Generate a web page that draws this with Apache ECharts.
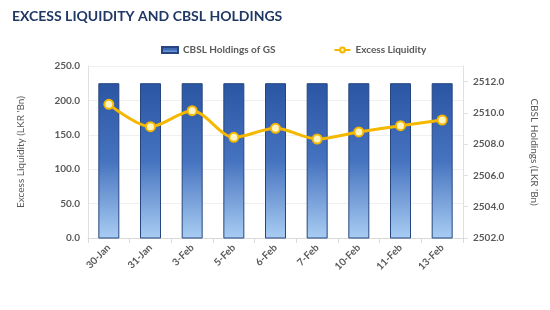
<!DOCTYPE html>
<html>
<head>
<meta charset="utf-8">
<script src="https://cdn.jsdelivr.net/npm/echarts@6/dist/echarts.min.js"></script>
<style>
  html, body { margin: 0; padding: 0; background: #fff; }
  #main { width: 550px; height: 310px; }
</style>
</head>
<body>
<div id="main"></div>
<script>
// data
var dates = ['30-Jan', '31-Jan', '3-Feb', '5-Feb', '6-Feb', '7-Feb', '10-Feb', '11-Feb', '13-Feb'];
var excessLiquidity = [194.3, 161.8, 185.0, 146.3, 159.4, 143.9, 154.1, 163.3, 171.5];
var cbslHoldings = [2511.9, 2511.9, 2511.9, 2511.9, 2511.9, 2511.9, 2511.9, 2511.9, 2511.9];

var chart = echarts.init(document.getElementById('main'));
var labelFont = 'Lato';
var grey = '#595959';

var option = {
  animation: false,
  textStyle: { fontFamily: labelFont },
  title: {
    text: 'EXCESS LIQUIDITY AND CBSL HOLDINGS',
    left: 7,
    top: 4,
    textStyle: { fontFamily: labelFont, fontSize: 14, fontWeight: 'bold', color: '#1f3864' }
  },
  legend: {
    left: 156,
    top: 40,
    itemGap: 58,
    itemWidth: 16,
    itemHeight: 6,
    textStyle: { fontFamily: labelFont, fontSize: 10, fontWeight: 'bold', color: grey },
    data: [
      { name: 'CBSL Holdings of GS', icon: 'rect' },
      { name: 'Excess Liquidity' }
    ]
  },
  grid: { left: 88, right: 87, top: 66, bottom: 72 },
  xAxis: {
    type: 'category',
    data: dates,
    axisLine: { lineStyle: { color: '#d9d9d9' } },
    axisTick: { show: true, lineStyle: { color: '#d9d9d9' } },
    axisLabel: { rotate: 45, fontSize: 10, fontWeight: 'bold', color: grey, margin: 8 }
  },
  yAxis: [
    {
      type: 'value',
      min: 0,
      max: 250,
      interval: 50,
      name: "Excess Liquidity (LKR 'Bn)",
      nameLocation: 'middle',
      nameGap: 62,
      nameTextStyle: { fontFamily: labelFont, fontSize: 10, color: grey },
      axisLine: { show: true, lineStyle: { color: '#e0e0e0' } },
      axisTick: { show: false },
      splitLine: { lineStyle: { color: '#f0f0f0' } },
      axisLabel: { fontSize: 10, fontWeight: 'bold', color: grey, formatter: function (v) { return v.toFixed(1); } }
    },
    {
      type: 'value',
      min: 2502,
      max: 2513,
      interval: 2,
      position: 'right',
      name: "CBSL Holdings (LKR 'Bn)",
      nameLocation: 'middle',
      nameRotate: -90,
      nameGap: 66,
      nameTextStyle: { fontFamily: labelFont, fontSize: 10, color: grey },
      axisLine: { show: true, lineStyle: { color: '#e0e0e0' } },
      axisTick: { show: true, lineStyle: { color: '#e0e0e0' } },
      splitLine: { show: false },
      axisLabel: {
        fontSize: 10, fontWeight: 'bold', color: grey, margin: 10,
        showMaxLabel: false,
        formatter: function (v) { return v === 2513 ? '' : v.toFixed(1); }
      }
    }
  ],
  series: [
    {
      name: 'CBSL Holdings of GS',
      type: 'bar',
      yAxisIndex: 1,
      data: cbslHoldings,
      barWidth: 21,
      itemStyle: {
        color: new echarts.graphic.LinearGradient(0, 0, 0, 1, [
          { offset: 0, color: '#2a55a3' },
          { offset: 0.5, color: '#4673bf' },
          { offset: 1, color: '#a9cdf3' }
        ]),
        borderColor: '#27467f',
        borderWidth: 1
      }
    },
    {
      name: 'Excess Liquidity',
      type: 'line',
      yAxisIndex: 0,
      data: excessLiquidity,
      smooth: 0.3,
      symbol: 'circle',
      symbolSize: 9,
      lineStyle: { color: '#f5b800', width: 3 },
      itemStyle: { color: '#fff4c4', borderColor: '#f5b800', borderWidth: 2 },
      z: 5
    }
  ]
};
chart.setOption(option);
</script>
</body>
</html>
